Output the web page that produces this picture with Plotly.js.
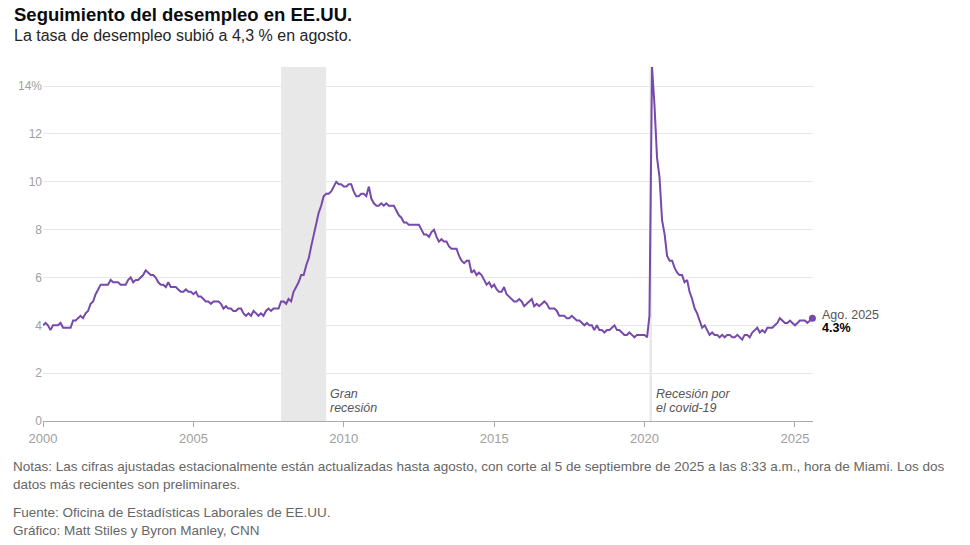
<!DOCTYPE html>
<html><head><meta charset="utf-8">
<script src="https://cdn.plot.ly/plotly-3.0.1.min.js"></script>
<style>html,body{margin:0;padding:0;background:#fff;}#chart{width:970px;height:545px;}</style>
</head><body><div id="chart"></div>
<script>
// Monthly unemployment rate, Jan 2000 – Aug 2025 (%)
const startYear = 2000;
const rate2000s = [
 4.0,4.1,4.0,3.8,4.0,4.0,4.0,4.1,3.9,3.9,3.9,3.9,
 4.2,4.2,4.3,4.4,4.3,4.5,4.6,4.9,5.0,5.3,5.5,5.7,
 5.7,5.7,5.7,5.9,5.8,5.8,5.8,5.7,5.7,5.7,5.9,6.0,
 5.8,5.9,5.9,6.0,6.1,6.3,6.2,6.1,6.1,6.0,5.8,5.7,
 5.7,5.6,5.8,5.6,5.6,5.6,5.5,5.4,5.4,5.5,5.4,5.4,
 5.3,5.4,5.2,5.2,5.1,5.0,5.0,4.9,5.0,5.0,5.0,4.9,
 4.7,4.8,4.7,4.7,4.6,4.6,4.7,4.7,4.5,4.4,4.5,4.4,
 4.6,4.5,4.4,4.5,4.4,4.6,4.7,4.6,4.7,4.7,4.7,5.0,
 5.0,4.9,5.1,5.0,5.4,5.6,5.8,6.1,6.1,6.5,6.8,7.3,
 7.8,8.3,8.7,9.0,9.4,9.5,9.5,9.6,9.8,10.0,9.9,9.9
];
const rate2010s = [
 9.8,9.8,9.9,9.9,9.6,9.4,9.4,9.5,9.5,9.4,9.8,9.3,
 9.1,9.0,9.0,9.1,9.0,9.1,9.0,9.0,9.0,8.8,8.6,8.5,
 8.3,8.3,8.2,8.2,8.2,8.2,8.2,8.0,7.8,7.8,7.7,7.9,
 8.0,7.7,7.5,7.6,7.5,7.5,7.3,7.2,7.2,7.2,6.9,6.7,
 6.6,6.7,6.7,6.2,6.3,6.1,6.2,6.1,5.9,5.7,5.8,5.6,
 5.7,5.5,5.4,5.4,5.6,5.3,5.2,5.1,5.0,5.0,5.1,5.0,
 4.8,4.9,5.0,5.1,4.8,4.9,4.8,4.9,5.0,4.9,4.7,4.7,
 4.7,4.6,4.4,4.4,4.4,4.3,4.3,4.4,4.3,4.2,4.2,4.1,
 4.0,4.1,4.0,4.0,3.8,4.0,3.8,3.8,3.7,3.8,3.8,3.9,
 4.0,3.8,3.8,3.7,3.6,3.6,3.7,3.6,3.5,3.6,3.6,3.6
];
const rate2020s = [
 3.6,3.5,4.4,14.8,13.2,11.0,10.2,8.4,7.8,6.9,6.7,6.7,
 6.4,6.2,6.1,6.1,5.8,5.9,5.4,5.1,4.7,4.5,4.2,3.9,
 4.0,3.8,3.6,3.7,3.6,3.6,3.5,3.6,3.5,3.6,3.6,3.5,
 3.5,3.6,3.5,3.4,3.6,3.6,3.5,3.7,3.8,3.9,3.7,3.8,
 3.7,3.9,3.9,3.9,4.0,4.1,4.3,4.2,4.1,4.1,4.2,4.1,
 4.0,4.1,4.2,4.2,4.2,4.1,4.2,4.3
];
const rates = rate2000s.concat(rate2010s, rate2020s);
const recessions = [["2007-12-01","2009-06-01"],["2020-03-01","2020-04-01"]];
const recessionLabels = [["Gran","recesión"],["Recesión por","el covid-19"]];
const yTicks = [0,2,4,6,8,10,12,14];
const yTickText = ["0","2","4","6","8","10","12","14%"];
const lastLabel = "Ago. 2025";

const dates = rates.map((_, i) => {
  const y = startYear + Math.floor(i / 12), m = (i % 12) + 1;
  return y + "-" + String(m).padStart(2, "0") + "-01";
});
const lastDate = dates[dates.length - 1], lastVal = rates[rates.length - 1];
const purple = "#7649ab";
const font = "Liberation Sans, Arial, sans-serif";
const PH = 354, PW = 770;

const traces = [
  {x: dates, y: rates, type: "scatter", mode: "lines",
   line: {color: purple, width: 2}, hoverinfo: "skip", cliponaxis: false},
  {x: [lastDate], y: [lastVal], type: "scatter", mode: "markers",
   marker: {color: purple, size: 7}, hoverinfo: "skip", cliponaxis: false}
];

const shapes = recessions.map(r => ({type: "rect", xref: "x", yref: "paper",
  x0: r[0], x1: r[1], y0: 0, y1: 1, fillcolor: "#e8e8e8", line: {width: 0}, layer: "below"}));

const annotations = [
  {xref: "paper", yref: "paper", x: -31/PW, y: 1 + 65/PH, xanchor: "left", yanchor: "top",
   text: "<b>Seguimiento del desempleo en EE.UU.</b>", showarrow: false,
   font: {family: font, size: 18.5, color: "#0c0c0c"}},
  {xref: "paper", yref: "paper", x: -31/PW, y: 1 + 42/PH, xanchor: "left", yanchor: "top",
   text: "La tasa de desempleo subió a 4,3 % en agosto.", showarrow: false,
   font: {family: font, size: 16, color: "#262626"}},
  {xref: "x", yref: "y", x: lastDate, y: lastVal, xanchor: "left", yanchor: "middle",
   xshift: 8, yshift: 3, align: "left", showarrow: false,
   text: lastLabel, font: {family: font, size: 12.5, color: "#555"}},
  {xref: "x", yref: "y", x: lastDate, y: lastVal, xanchor: "left", yanchor: "middle",
   xshift: 8, yshift: -10, align: "left", showarrow: false,
   text: "<b>" + String(lastVal) + "%</b>", font: {family: font, size: 12.5, color: "#000"}},
  {xref: "paper", yref: "paper", x: -32/PW, y: -36/PH, xanchor: "left", yanchor: "top", align: "left",
   showarrow: false,
   text: "Notas: Las cifras ajustadas estacionalmente están actualizadas hasta agosto, con corte al 5 de septiembre de 2025 a las 8:33 a.m., hora de Miami. Los dos<br>datos más recientes son preliminares.",
   font: {family: font, size: 13.5, color: "#666"}},
  {xref: "paper", yref: "paper", x: -32/PW, y: -82/PH, xanchor: "left", yanchor: "top", align: "left",
   showarrow: false,
   text: "Fuente: Oficina de Estadísticas Laborales de EE.UU.<br>Gráfico: Matt Stiles y Byron Manley, CNN",
   font: {family: font, size: 13.5, color: "#666"}}
];
const labelAnchors = ["2009-06-01", "2020-04-01"];
const lineYs = [1.13, 0.54];
recessionLabels.forEach((lines, i) => lines.forEach((t, j) => annotations.push({
  xref: "x", yref: "y", x: labelAnchors[i], y: lineYs[j],
  xanchor: "left", yanchor: "middle", align: "left", xshift: 2, showarrow: false,
  text: "<i>" + t + "</i>", font: {family: font, size: 12.5, color: "#555"}})));

const layout = {
  width: 970, height: 545,
  margin: {l: 43, r: 157, t: 67, b: 124},
  paper_bgcolor: "#fff", plot_bgcolor: "#fff",
  showlegend: false,
  font: {family: font},
  xaxis: {type: "date", range: ["2000-01-01", "2025-08-08"],
    tickvals: ["2000-01-01","2005-01-01","2010-01-01","2015-01-01","2020-01-01","2025-01-01"],
    ticktext: ["2000","2005","2010","2015","2020","2025"],
    showgrid: false, zeroline: false, showline: true, linecolor: "#aaaaaa", linewidth: 1,
    ticks: "outside", ticklen: 5, tickcolor: "#aaaaaa",
    tickfont: {family: font, size: 13, color: "#a0a0a0"}, fixedrange: true},
  yaxis: {range: [0, 14.8], tickvals: yTicks, ticktext: yTickText,
    showgrid: true, gridcolor: "#e8e8e8", gridwidth: 1, zeroline: false, showline: false,
    ticks: "", tickfont: {family: font, size: 12, color: "#a0a0a0"}, fixedrange: true},
  shapes: shapes,
  annotations: annotations
};
Plotly.newPlot("chart", traces, layout, {displayModeBar: false, staticPlot: true});
</script></body></html>
